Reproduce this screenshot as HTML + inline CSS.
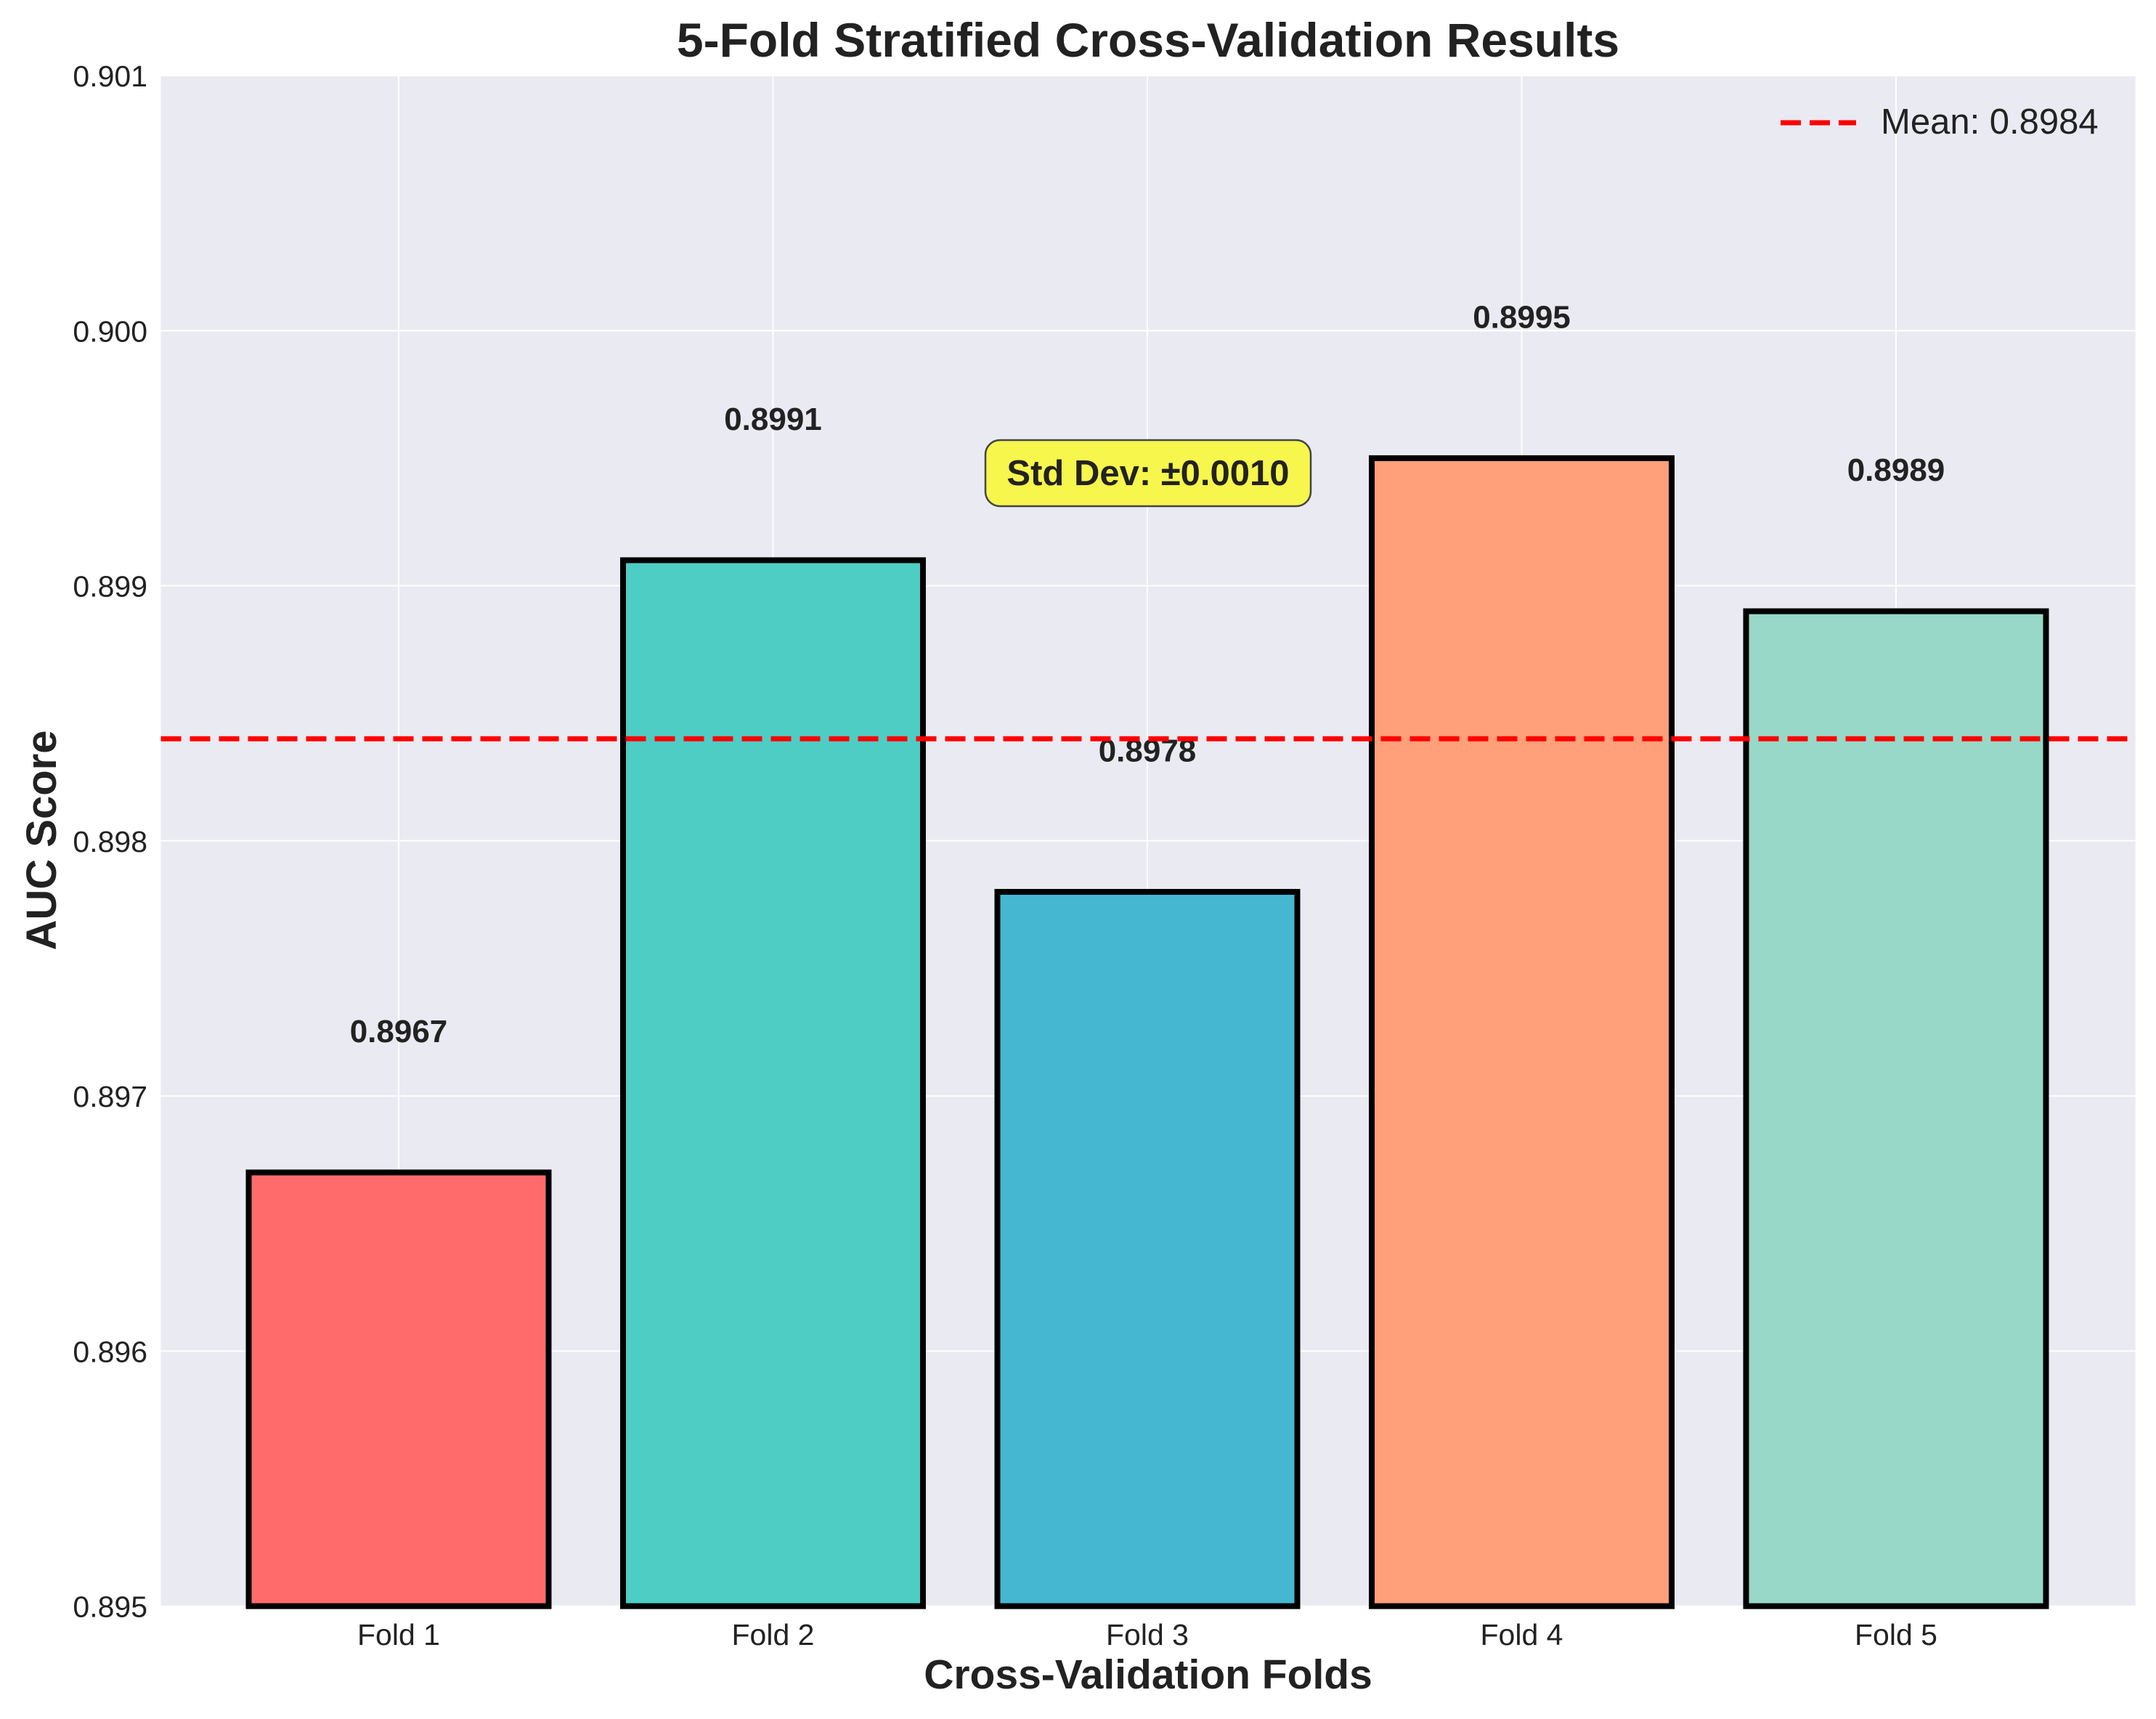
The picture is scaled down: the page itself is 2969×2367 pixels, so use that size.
<!DOCTYPE html>
<html><head><meta charset="utf-8"><style>html,body{margin:0;padding:0;background:#fff}svg{display:block}text{font-family:"Liberation Sans",Arial,sans-serif}</style></head>
<body>
<svg id="chart" width="2969" height="2367" xmlns="http://www.w3.org/2000/svg"></svg>
<script>
const categories = ["Fold 1","Fold 2","Fold 3","Fold 4","Fold 5"];
const aucValues = [0.8967, 0.8991, 0.8978, 0.8995, 0.8989];
const valueLabels = ["0.8967","0.8991","0.8978","0.8995","0.8989"];
const yTicks = [0.895,0.896,0.897,0.898,0.899,0.900,0.901];
const yTickLabels = ["0.895","0.896","0.897","0.898","0.899","0.900","0.901"];
const meanValue = 0.8984;
const colors = ["#FF6B6B","#4ECDC4","#45B7D1","#FFA07A","#98D8C8"];

const NS="http://www.w3.org/2000/svg";
const svg=document.getElementById('chart');
const L=221.5,R=2940.6,T=104,B=2211.6;
const yMin=0.895,yMax=0.901;
const y=v=>B-(v-yMin)/(yMax-yMin)*(B-T);
const x=i=>549+i*515.5;
const bw=413;
function el(tag,attrs,parent){const e=document.createElementNS(NS,tag);for(const k in attrs)e.setAttribute(k,attrs[k]);(parent||svg).appendChild(e);return e;}

const bg=el('rect',{x:L,y:T,width:R-L,height:B-T,fill:'#EAEAF2'});



yTicks.forEach((t,i)=>{
  const g=el('line',{x1:L,x2:R,y1:y(t),y2:y(t),stroke:'#fff','stroke-width':2});
  
  
  const tx=el('text',{x:203,y:y(t)+15,'text-anchor':'end','font-size':41,fill:'#222'});
  tx.textContent=yTickLabels[i];
  
  
});
categories.forEach((c,i)=>{
  const g=el('line',{x1:x(i),x2:x(i),y1:T,y2:B,stroke:'#fff','stroke-width':2});
  
  
});
categories.forEach((c,i)=>{
  const b=el('rect',{x:x(i)-bw/2,y:y(aucValues[i]),width:bw,height:B-y(aucValues[i]),fill:colors[i],stroke:'#000','stroke-width':8});
  
  
  const lv=el('text',{x:x(i),y:y(aucValues[i]+0.0005)-4,'text-anchor':'middle','font-size':44,'font-weight':'bold',fill:'#222'});
  lv.textContent=valueLabels[i];
  
  
  const tx=el('text',{x:x(i),y:2265,'text-anchor':'middle','font-size':41,fill:'#222'});
  tx.textContent=c;
  
  
});
const ml=el('line',{x1:L,x2:R,y1:y(meanValue),y2:y(meanValue),stroke:'#FF0000','stroke-width':7,'stroke-dasharray':'28 12'});



const sb=el('rect',{x:1357,y:606,width:448,height:91,rx:20,fill:'#F6F64C',stroke:'#444','stroke-width':2.5});


const st=el('text',{x:1581,y:668,'text-anchor':'middle','font-size':49,'font-weight':'bold',fill:'#222'});
st.textContent='Std Dev: ±0.0010';



const lgl=el('line',{x1:2452,x2:2556,y1:169,y2:169,stroke:'#FF0000','stroke-width':7,'stroke-dasharray':'28 12'});


const lgt=el('text',{x:2590,y:184,'font-size':49,fill:'#222'});
lgt.textContent='Mean: 0.8984';



const ti=el('text',{x:1581,y:78,'text-anchor':'middle','font-size':66,'font-weight':'bold',fill:'#222'});
ti.textContent='5-Fold Stratified Cross-Validation Results';


const xl=el('text',{x:1581,y:2325,'text-anchor':'middle','font-size':57,'font-weight':'bold',fill:'#222'});
xl.textContent='Cross-Validation Folds';


const yl=el('text',{x:0,y:0,'text-anchor':'middle','font-size':58,'font-weight':'bold',fill:'#222',transform:'translate(77,1157) rotate(-90)'});
yl.textContent='AUC Score';


</script>
</body></html>
